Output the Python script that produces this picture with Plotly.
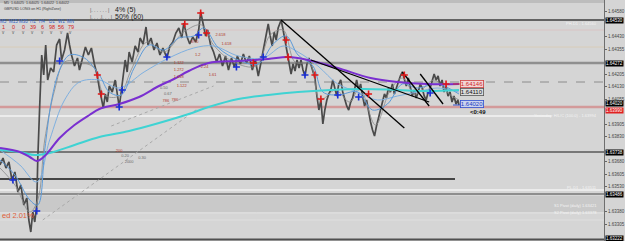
import plotly.graph_objects as go

# ---------------- data ----------------
# price path (bar index, price)
bar_x = [0, 3, 6, 9, 12, 15, 18, 21, 24, 27,
         29, 31, 33, 35, 37, 38, 40, 42, 44, 46,
         48, 51, 54, 57, 60, 62, 65, 68, 70, 72,
         75, 78, 80, 83, 86, 89, 92, 95, 98, 100,
         102, 104, 106, 108, 110, 113, 116, 118, 120, 122,
         124, 126, 128, 130, 133, 136, 139, 141, 144, 147,
         149, 152, 155, 158, 161, 164, 168, 171, 174, 177,
         180, 183, 185, 188, 191, 194, 197, 200, 202, 205,
         207, 209, 212, 215, 218, 221, 224, 227, 230, 233,
         236, 239, 242, 245, 248, 251, 254, 257, 260, 262,
         264, 266, 268, 270, 272, 274, 276, 278, 280, 283,
         285, 287, 289, 291, 293, 295, 297, 299, 301, 303,
         305, 307, 309, 311, 313, 315, 317, 319, 321, 323,
         325, 327, 329, 331, 333, 335, 337, 339, 341, 343,
         345, 347, 349, 351, 353, 355, 357, 359, 361, 363,
         365, 367, 369, 371, 373, 375, 377, 379, 381, 383,
         385, 387, 389, 391, 393, 395, 397, 399, 401, 403,
         405, 407, 409, 411, 413, 415, 417, 419, 421, 423,
         425, 427, 429, 431, 433, 435, 437, 439, 441, 443,
         445, 447, 449, 451, 453, 455, 457, 459, 461, 462]
price = [1.63660, 1.63702, 1.63642, 1.63678, 1.63570, 1.63618, 1.63498, 1.63540, 1.63420, 1.63462,
         1.63330, 1.63258, 1.63378, 1.63318, 1.63420, 1.63690, 1.64020, 1.64320, 1.64200, 1.64380,
         1.64170, 1.64242, 1.64218, 1.64380, 1.64416, 1.64290, 1.64350, 1.64452, 1.64380, 1.64320,
         1.64254, 1.64302, 1.64230, 1.64302, 1.64368, 1.64320, 1.64362, 1.64266, 1.64194, 1.64122,
         1.64050, 1.64002, 1.64086, 1.64038, 1.64134, 1.64098, 1.64170, 1.64098, 1.64008, 1.64098,
         1.64194, 1.64290, 1.64218, 1.64338, 1.64278, 1.64374, 1.64338, 1.64422, 1.64386, 1.64488,
         1.64380, 1.64422, 1.64350, 1.64392, 1.64320, 1.64362, 1.64302, 1.64374, 1.64398, 1.64452,
         1.64482, 1.64422, 1.64512, 1.64434, 1.64386, 1.64428, 1.64398, 1.64470, 1.64578, 1.64494,
         1.64434, 1.64470, 1.64380, 1.64338, 1.64278, 1.64326, 1.64254, 1.64314, 1.64230, 1.64302,
         1.64248, 1.64314, 1.64266, 1.64326, 1.64272, 1.64314, 1.64230, 1.64290, 1.64194, 1.64254,
         1.64314, 1.64386, 1.64434, 1.64506, 1.64434, 1.64374, 1.64458, 1.64410, 1.64482, 1.64530,
         1.64470, 1.64398, 1.64338, 1.64272, 1.64206, 1.64266, 1.64224, 1.64290, 1.64242, 1.64290,
         1.64230, 1.64194, 1.64266, 1.64302, 1.64266, 1.64230, 1.64182, 1.64074, 1.63990, 1.64050,
         1.63906, 1.63990, 1.64050, 1.64086, 1.64110, 1.64170, 1.64122, 1.64074, 1.64146, 1.64170,
         1.64098, 1.64050, 1.64014, 1.63990, 1.64038, 1.64062, 1.64122, 1.64170, 1.64110, 1.64146,
         1.64074, 1.64014, 1.64050, 1.63978, 1.63918, 1.63870, 1.63834, 1.63894, 1.63942, 1.63990,
         1.64050, 1.64086, 1.64062, 1.64122, 1.64098, 1.64146, 1.64086, 1.64122, 1.64170, 1.64194,
         1.64218, 1.64170, 1.64134, 1.64182, 1.64122, 1.64074, 1.64110, 1.64062, 1.64098, 1.64146,
         1.64122, 1.64074, 1.64050, 1.64098, 1.64122, 1.64170, 1.64206, 1.64170, 1.64194, 1.64134,
         1.64170, 1.64098, 1.64134, 1.64074, 1.64098, 1.64038, 1.64074, 1.64026, 1.64050, 1.64020]

# moving averages
purple_x = [0, 20, 30, 37, 45, 60, 75, 90, 100, 120, 140, 160, 175, 190, 210, 240, 270, 290, 310, 340, 373, 400, 430, 462]
purple_y = [1.63762, 1.63738, 1.63708, 1.63684, 1.63714, 1.63822, 1.63900, 1.63960, 1.63996, 1.64026,
            1.64068, 1.64134, 1.64176, 1.64224, 1.64272, 1.64284, 1.64296, 1.64308, 1.64290, 1.64242,
            1.64182, 1.64158, 1.64146, 1.64146]
cyan_x = [0, 20, 35, 50, 75, 100, 130, 160, 190, 210, 240, 270, 300, 333, 367, 400, 430, 462]
cyan_y = [1.63750, 1.63738, 1.63720, 1.63732, 1.63780, 1.63828, 1.63864, 1.63912, 1.63966, 1.64008,
          1.64056, 1.64080, 1.64098, 1.64110, 1.64116, 1.64110, 1.64104, 1.64110]
fast_x = [0, 15, 30, 38, 45, 52, 60, 70, 85, 100, 110, 122, 135, 150, 165, 180, 195, 205, 220, 240,
          260, 275, 288, 300, 315, 325, 340, 360, 375, 390, 405, 420, 440, 462]
fast_y = [1.63690, 1.63600, 1.63450, 1.63420, 1.63750, 1.64050, 1.64230, 1.64320, 1.64302, 1.64200,
          1.64098, 1.64080, 1.64242, 1.64380, 1.64350, 1.64422, 1.64434, 1.64482, 1.64362, 1.64290,
          1.64266, 1.64386, 1.64434, 1.64320, 1.64254, 1.64098, 1.64080, 1.64098, 1.63990, 1.64026,
          1.64146, 1.64122, 1.64146, 1.64086]
slow_x = [0, 20, 37, 50, 65, 80, 100, 120, 145, 170, 195, 215, 240, 265, 285, 300, 320, 340, 360, 380,
          400, 420, 440, 462]
slow_y = [1.63750, 1.63660, 1.63558, 1.63810, 1.64050, 1.64158, 1.64170, 1.64122, 1.64218, 1.64302,
          1.64362, 1.64374, 1.64314, 1.64302, 1.64374, 1.64338, 1.64254, 1.64146, 1.64098, 1.64050,
          1.64074, 1.64098, 1.64122, 1.64098]
gray_x = [0, 15, 30, 38, 45, 55, 65, 80, 95, 105, 120, 132, 148, 165, 185, 203, 215, 235, 258, 272,
          285, 297, 312, 322, 338, 352, 362, 378, 392, 405, 418, 437, 452, 462]
gray_y = [1.63642, 1.63540, 1.63378, 1.63450, 1.63810, 1.64110, 1.64278, 1.64278, 1.64242, 1.64080,
          1.64074, 1.64230, 1.64398, 1.64338, 1.64458, 1.64500, 1.64380, 1.64278, 1.64254, 1.64440,
          1.64470, 1.64278, 1.64266, 1.64050, 1.64110, 1.64038, 1.64122, 1.63900, 1.64098, 1.64182,
          1.64086, 1.64170, 1.64086, 1.64050]

# trend lines
tl_x0 = [283, 313, 405, 423]
tl_y0 = [1.64530, 1.64290, 1.64218, 1.64206]
tl_x1 = [407, 432, 432, 446]
tl_y1 = [1.63882, 1.64038, 1.64014, 1.64026]

# fib fan (dotted)
fan_x0 = [43, 112]
fan_y0 = [1.63330, 1.63894]
fan_x1 = [200, 215]
fan_y1 = [1.64002, 1.64134]

# horizontal levels
level_price = [1.64530, 1.64470, 1.64368, 1.64272, 1.64158, 1.64008, 1.63954,
               1.63738, 1.63576, 1.63510, 1.63486, 1.63372, 1.63330]
level_end = [608, 608, 608, 608, 608, 608, 555, 608, 458, 608, 608, 608, 608]
band_lo, band_hi = 1.63378, 1.63474

# fractal markers
up_x = [98, 186, 202, 208, 255, 288, 290, 317, 323, 371, 407, 449, 102]
up_y = [1.64200, 1.64506, 1.64572, 1.64452, 1.64272, 1.64410, 1.64308, 1.64200, 1.64056, 1.64086,
        1.64200, 1.64146, 1.64086]
dn_x = [60, 168, 200, 238, 265, 307, 340, 361, 123, 120, 13, 37, 433]
dn_y = [1.64284, 1.64308, 1.64440, 1.64248, 1.64308, 1.64200, 1.64080, 1.64068, 1.64110, 1.64008,
        1.63570, 1.63384, 1.64092]

# fib labels
fib_x = [196, 199, 180, 180, 180, 165, 169, 167, 176, 183, 120, 126, 143, 130, 222, 228, 206, 214]
fib_y = [1.64398, 1.64320, 1.64272, 1.64230, 1.64188, 1.64122, 1.64086, 1.64044, 1.64050, 1.64134,
         1.63744, 1.63714, 1.63702, 1.63678, 1.64440, 1.64386, 1.64248, 1.64200]
fib_t = ["8/70", "1.2", "1.122", "1.272", "1.618", "0.50", "0.67", "786", "786", "1.122",
         "200", "0.20", "0.30", "2000", "2.618", "1.618", "2.24", "1.61"]
fib_red = [1, 1, 1, 1, 1, 0, 0, 1, 1, 1, 1, 0, 0, 0, 1, 1, 1, 1]

# axis ticks (those hidden behind the black price tags are left out)
tick_vals = [1.64580, 1.64430, 1.64355, 1.64205, 1.64130, 1.64055,
             1.63905, 1.63830, 1.63680, 1.63605, 1.63530, 1.63380, 1.63305]
axis_tag_price = [1.64530, 1.64272, 1.63738, 1.63486, 1.63222]
bid_price = 1.64020
ask_price = 1.63990

# header
tf_names = ["M5", "M15", "M30", "H1", "H4", "D1", "W1", "MN"]
tf_vals = ["1", "0", "0", "39", "6", "98", "56", "79"]

# ---------------- figure ----------------
PW, PH = 608, 241
X_RANGE = [0, 608]
Y_RANGE = [1.63204, 1.64650]
FONT = "Liberation Sans"


def px(x):
    return x / PW


def py(y):
    return 1 - y / PH


fig = go.Figure()

fig.add_shape(type="rect", xref="paper", x0=0, x1=1, yref="y", y0=band_lo, y1=band_hi,
              fillcolor="#c9c9c9", line_width=0, layer="below")
fig.add_shape(type="rect", xref="paper", x0=0, x1=1, yref="paper", y0=py(3), y1=1,
              fillcolor="#bdbdbd", line_width=0, layer="below")

lvl_color = ["#3c3c3c", "#d9c3c3", "#d8ccb8", "#8f8f8f", "#8c8c8c", "#d39a9a", "#f3f3f3",
             "#777777", "#151515", "#f2f2f2", "#8e8e8e", "#e2e2e2", "#dfdfdf"]
lvl_width = [1.5, 1, 1, 2.5, 1, 2.5, 1.5, 2, 1.5, 1.5, 2, 1, 1]
lvl_dash = ["solid"] * 4 + ["dash"] + ["solid"] * 8
for p, e, c, w, d in zip(level_price, level_end, lvl_color, lvl_width, lvl_dash):
    fig.add_trace(go.Scatter(x=[X_RANGE[0], e], y=[p, p], mode="lines",
                             line=dict(color=c, width=w, dash=d), hoverinfo="skip"))

for a, b, c, d in zip(fan_x0, fan_y0, fan_x1, fan_y1):
    fig.add_trace(go.Scatter(x=[a, c], y=[b, d], mode="lines",
                             line=dict(color="#a9a9a9", width=1, dash="dot"), hoverinfo="skip"))

# price
fig.add_trace(go.Scatter(x=bar_x, y=price, mode="lines",
                         line=dict(color="#4a4a4a", width=1.7), hoverinfo="skip"))

# MAs
fig.add_trace(go.Scatter(x=gray_x, y=gray_y, mode="lines", line=dict(color="#8a8a8a", width=0.8, shape="spline")))
fig.add_trace(go.Scatter(x=slow_x, y=slow_y, mode="lines", line=dict(color="#7fb0e0", width=1, shape="spline")))
fig.add_trace(go.Scatter(x=fast_x, y=fast_y, mode="lines", line=dict(color="#5c9ad8", width=1, shape="spline")))
fig.add_trace(go.Scatter(x=cyan_x, y=cyan_y, mode="lines", line=dict(color="#3fd3d3", width=2, shape="spline")))
fig.add_trace(go.Scatter(x=purple_x, y=purple_y, mode="lines", line=dict(color="#7a2fd0", width=2, shape="spline")))

# trend lines
for a, b, c, d in zip(tl_x0, tl_y0, tl_x1, tl_y1):
    fig.add_trace(go.Scatter(x=[a, c], y=[b, d], mode="lines",
                             line=dict(color="#000000", width=1.3), hoverinfo="skip"))

# small connectors to price tags
fig.add_trace(go.Scatter(x=[456, 463], y=[1.64146, 1.64146], mode="lines", line=dict(color="#d03030", width=1)))
fig.add_trace(go.Scatter(x=[456, 463], y=[1.64020, 1.64020], mode="lines", line=dict(color="#3050d0", width=1)))

# fractals
fig.add_trace(go.Scatter(x=up_x, y=up_y, mode="markers",
                         marker=dict(symbol="cross-thin", size=5, line=dict(color="#e01818", width=1.6))))
fig.add_trace(go.Scatter(x=dn_x, y=dn_y, mode="markers",
                         marker=dict(symbol="cross-thin", size=5, line=dict(color="#1a2fd6", width=1.6))))

# fib labels
fig.add_trace(go.Scatter(x=fib_x, y=fib_y, mode="text", text=fib_t,
                         textfont=dict(family=FONT, size=4,
                                       color=["#b23a2a" if r else "#6a6a6a" for r in fib_red])))

ann = []
# price tags
ann.append(dict(x=463, y=1.64146, xref="x", yref="y", text="1.64146", xanchor="left", yanchor="middle",
                showarrow=False, font=dict(family=FONT, size=6, color="#d02828"),
                bgcolor="#f2d6d6", bordercolor="#d04040", borderwidth=0.8, borderpad=0))
ann.append(dict(x=463, y=1.64098, xref="x", yref="y", text="1.64110", xanchor="left", yanchor="middle",
                showarrow=False, font=dict(family=FONT, size=6, color="#111111"),
                bgcolor="#dcdcdc", bordercolor="#555555", borderwidth=0.8, borderpad=0))
ann.append(dict(x=463, y=1.64026, xref="x", yref="y", text="1.64020", xanchor="left", yanchor="middle",
                showarrow=False, font=dict(family=FONT, size=6, color="#2040c0"),
                bgcolor="#cdd3ee", bordercolor="#3050d0", borderwidth=0.8, borderpad=0))
ann.append(dict(x=471, y=1.63978, xref="x", yref="y", text="<b>&lt;0:49</b>", xanchor="left", yanchor="middle",
                showarrow=False, font=dict(family=FONT, size=6, color="#111111")))

# right axis tags
for p in axis_tag_price:
    ann.append(dict(x=1, y=p, xref="paper", yref="y", text=f"{p:.5f}", xanchor="left", xshift=1,
                    yanchor="middle", showarrow=False, font=dict(family=FONT, size=4.5, color="#ffffff"),
                    bgcolor="#000000", borderpad=0))
ann.append(dict(x=1, y=bid_price + 0.00012, xref="paper", yref="y", text=f"{bid_price:.5f}", xanchor="left",
                xshift=1, yanchor="middle", showarrow=False, font=dict(family=FONT, size=4.5, color="#ffffff"),
                bgcolor="#000000", borderpad=0))
ann.append(dict(x=1, y=ask_price - 0.00004, xref="paper", yref="y", text=f"{ask_price:.5f}", xanchor="left",
                xshift=1, yanchor="middle", showarrow=False, font=dict(family=FONT, size=4.5, color="#ffffff"),
                bgcolor="#e02020", borderpad=0))

# light level captions on the right
caps = [(24, "PH-D1 - 1.64560"), (115, "Yesterday: H/L/C (100.0) - 1.63994"),
        (187, "PL-D1 - 1.63511"), (205, "S1 Pivot (daily) 1.63421"), (212, "S2 Pivot (daily) 1.63378")]
for yy, t in caps:
    ann.append(dict(x=px(603), y=py(yy), xref="paper", yref="paper", text=t, xanchor="right",
                    yanchor="middle", showarrow=False, font=dict(family=FONT, size=4, color="#f4f4f4")))

# header texts
ann.append(dict(x=px(2), y=py(3), xref="paper", yref="paper", text="M5  1.64025  1.64025  1.64022  1.64022",
                xanchor="left", yanchor="middle", showarrow=False, font=dict(family=FONT, size=3.6, color="#3a3a3a")))
ann.append(dict(x=px(2), y=py(9), xref="paper", yref="paper", text="GBPUSD LONG on H1 (RightZone)",
                xanchor="left", yanchor="middle", showarrow=False, font=dict(family=FONT, size=3.6, color="#3a3a3a")))
ann.append(dict(x=px(89), y=py(10), xref="paper", yref="paper", text="|. . . . . . |",
                xanchor="left", yanchor="middle", showarrow=False, font=dict(family=FONT, size=5, color="#555555")))
ann.append(dict(x=px(89), y=py(17), xref="paper", yref="paper", text="|. . . .|. . . |",
                xanchor="left", yanchor="middle", showarrow=False, font=dict(family=FONT, size=5, color="#555555")))
ann.append(dict(x=px(114), y=py(10), xref="paper", yref="paper", text="4% (5)",
                xanchor="left", yanchor="middle", showarrow=False, font=dict(family=FONT, size=7, color="#222222")))
ann.append(dict(x=px(114), y=py(17), xref="paper", yref="paper", text="50% (60)",
                xanchor="left", yanchor="middle", showarrow=False, font=dict(family=FONT, size=7, color="#222222")))
for i, (n, v) in enumerate(zip(tf_names, tf_vals)):
    cx = 4 + i * 9.6
    ann.append(dict(x=px(cx), y=py(21), xref="paper", yref="paper", text=n, xanchor="center", yanchor="middle",
                    showarrow=False, font=dict(family=FONT, size=4.5, color="#2f63c8")))
    ann.append(dict(x=px(cx), y=py(27), xref="paper", yref="paper", text=v, xanchor="center", yanchor="middle",
                    showarrow=False, font=dict(family=FONT, size=5.5, color="#d42020")))
    ann.append(dict(x=px(cx), y=py(33), xref="paper", yref="paper", text="v", xanchor="center", yanchor="middle",
                    showarrow=False, font=dict(family=FONT, size=4.5, color="#555555")))

ann.append(dict(x=0, y=py(215), xref="paper", yref="paper", text="ed 2.01%", xanchor="left", yanchor="middle",
                showarrow=False, font=dict(family=FONT, size=7.5, color="#e0603a")))

fig.update_layout(
    width=625, height=241,
    margin=dict(l=0, r=17, t=0, b=0),
    paper_bgcolor="#d5d5d5", plot_bgcolor="#d5d5d5",
    showlegend=False,
    annotations=ann,
    xaxis=dict(range=X_RANGE, visible=False, fixedrange=True),
    yaxis=dict(range=Y_RANGE, side="right", showgrid=False, zeroline=False,
               tickvals=tick_vals, ticktext=[f"{v:.5f}" for v in tick_vals],
               tickfont=dict(family=FONT, size=4.5, color="#444444"),
               ticks="outside", ticklen=2, tickcolor="#666666",
               showline=True, linecolor="#6e6e6e", linewidth=1, fixedrange=True),
    shapes=list(fig.layout.shapes) + [
        dict(type="line", xref="paper", yref="paper", x0=0, x1=1, y0=py(239.5), y1=py(239.5),
             line=dict(color="#505050", width=2)),
    ],
)

fig.write_html("out.html")
